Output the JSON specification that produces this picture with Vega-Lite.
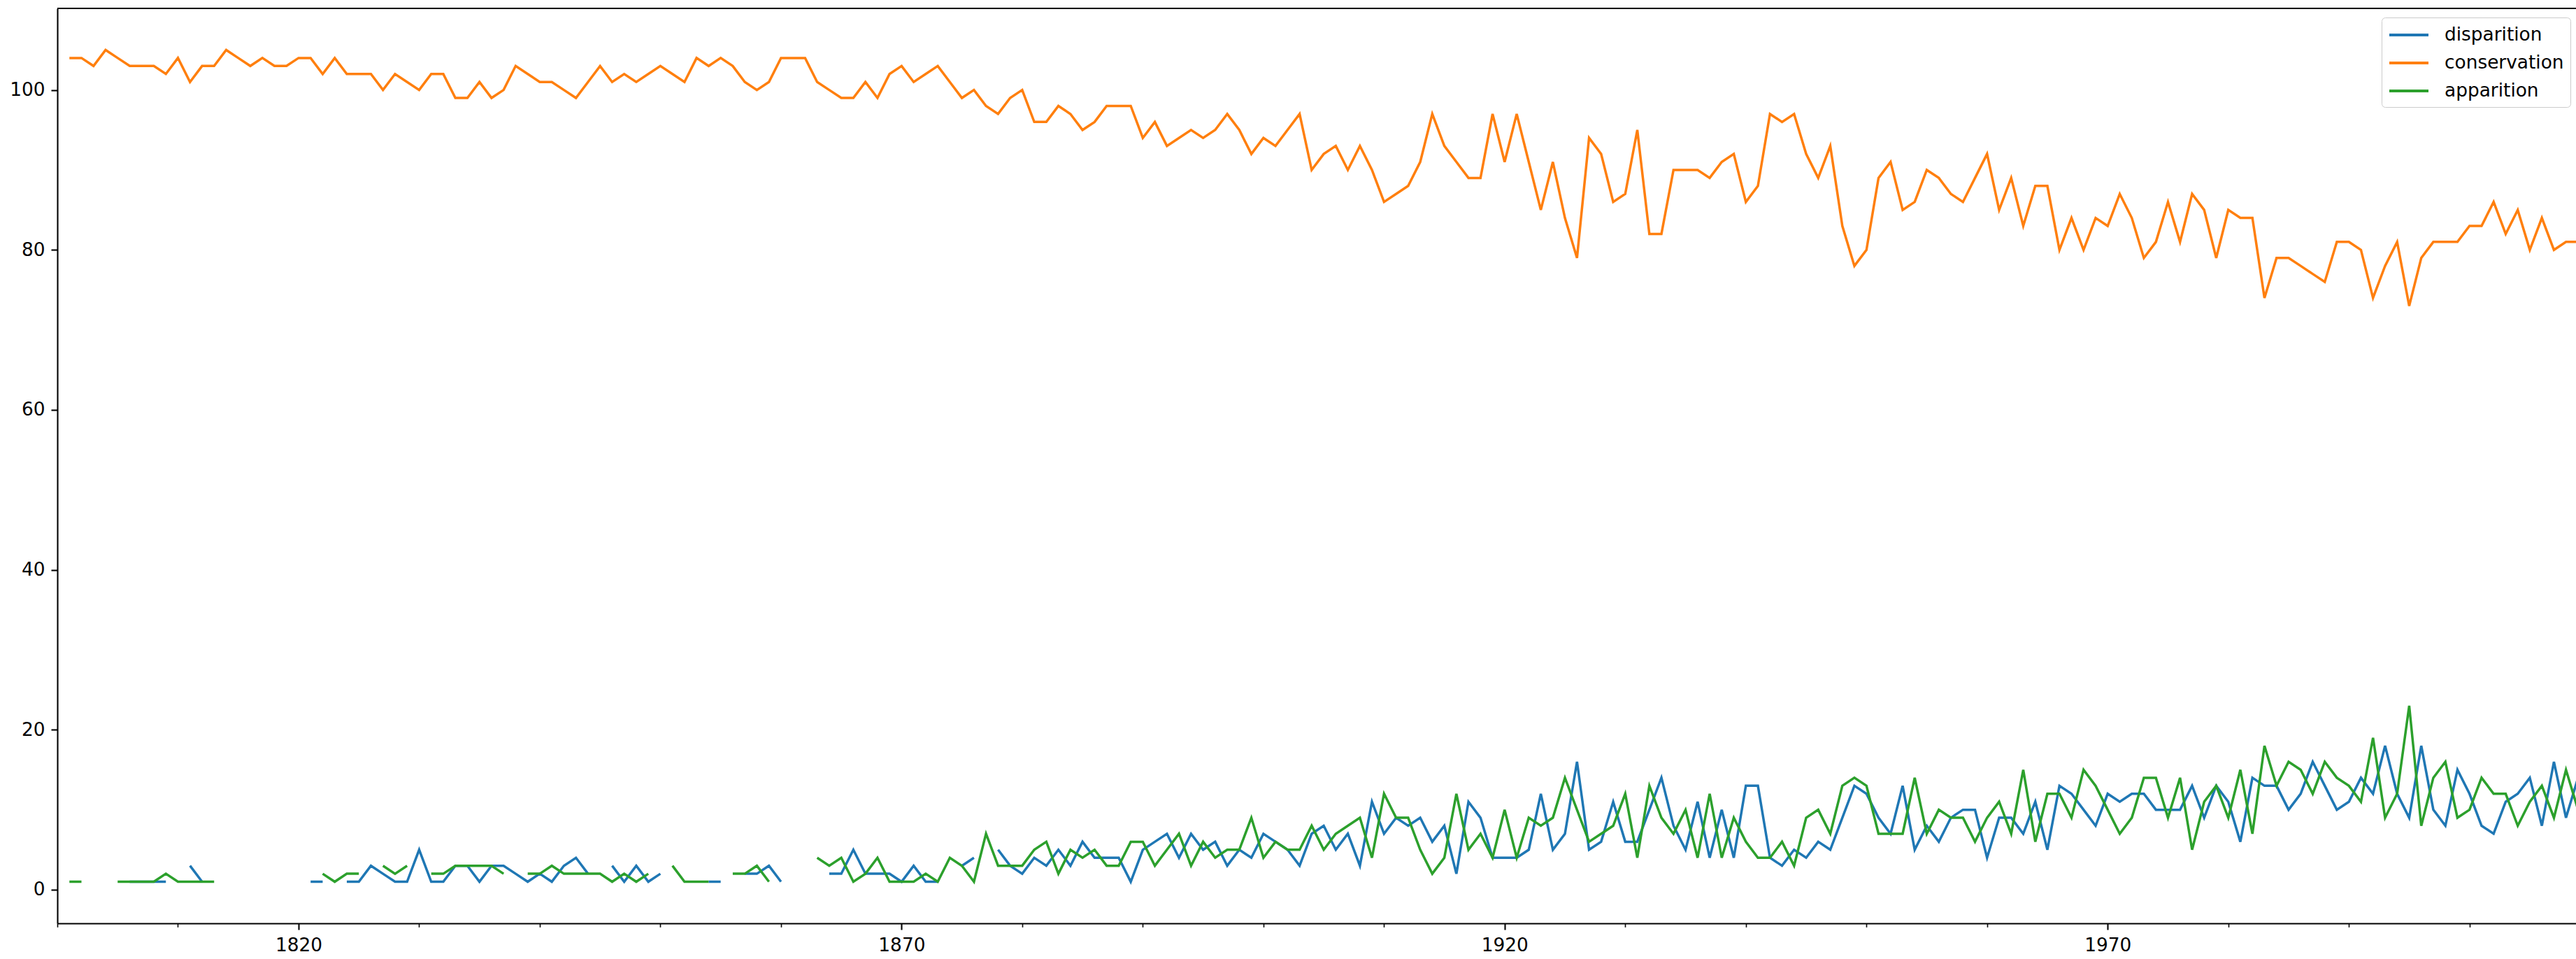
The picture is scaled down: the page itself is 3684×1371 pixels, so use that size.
{
 "$schema": "https://vega.github.io/schema/vega-lite/v6.json",
 "width": 3602, "height": 1308,
 "autosize": {"type": "none"},
 "padding": {"left": 82, "top": 12, "right": 0, "bottom": 51},
 "background": "white",
 "config": {
  "view": {"stroke": null},
  "font": "DejaVu Sans",
  "axis": {"domainColor": "black", "domainWidth": 2.1, "tickColor": "black", "tickWidth": 2.1, "tickSize": 9, "labelFont": "DejaVu Sans", "labelFontSize": 26.4, "labelColor": "black", "labelPadding": 9, "grid": false, "title": null},
  "legend": {"orient": "none", "legendX": 3324, "legendY": 13, "title": null, "symbolType": "M-1,0H3", "symbolSize": 784, "symbolStrokeWidth": 4, "labelFont": "DejaVu Sans", "labelFontSize": 26.4, "labelColor": "black", "labelLimit": 400, "labelOffset": 49, "padding": 9, "rowPadding": 10, "strokeColor": "#cccccc", "fillColor": "white", "cornerRadius": 5}
 },
 "data": {"values": [
{"year":1801,"disparition":null,"conservation":104,"apparition":1},
{"year":1802,"disparition":null,"conservation":104,"apparition":1},
{"year":1803,"disparition":null,"conservation":103,"apparition":null},
{"year":1804,"disparition":null,"conservation":105,"apparition":null},
{"year":1805,"disparition":null,"conservation":104,"apparition":1},
{"year":1806,"disparition":1,"conservation":103,"apparition":1},
{"year":1807,"disparition":1,"conservation":103,"apparition":1},
{"year":1808,"disparition":1,"conservation":103,"apparition":1},
{"year":1809,"disparition":1,"conservation":102,"apparition":2},
{"year":1810,"disparition":null,"conservation":104,"apparition":1},
{"year":1811,"disparition":3,"conservation":101,"apparition":1},
{"year":1812,"disparition":1,"conservation":103,"apparition":1},
{"year":1813,"disparition":null,"conservation":103,"apparition":1},
{"year":1814,"disparition":null,"conservation":105,"apparition":null},
{"year":1815,"disparition":null,"conservation":104,"apparition":null},
{"year":1816,"disparition":null,"conservation":103,"apparition":null},
{"year":1817,"disparition":null,"conservation":104,"apparition":null},
{"year":1818,"disparition":null,"conservation":103,"apparition":null},
{"year":1819,"disparition":null,"conservation":103,"apparition":null},
{"year":1820,"disparition":null,"conservation":104,"apparition":null},
{"year":1821,"disparition":1,"conservation":104,"apparition":null},
{"year":1822,"disparition":1,"conservation":102,"apparition":2},
{"year":1823,"disparition":null,"conservation":104,"apparition":1},
{"year":1824,"disparition":1,"conservation":102,"apparition":2},
{"year":1825,"disparition":1,"conservation":102,"apparition":2},
{"year":1826,"disparition":3,"conservation":102,"apparition":null},
{"year":1827,"disparition":2,"conservation":100,"apparition":3},
{"year":1828,"disparition":1,"conservation":102,"apparition":2},
{"year":1829,"disparition":1,"conservation":101,"apparition":3},
{"year":1830,"disparition":5,"conservation":100,"apparition":null},
{"year":1831,"disparition":1,"conservation":102,"apparition":2},
{"year":1832,"disparition":1,"conservation":102,"apparition":2},
{"year":1833,"disparition":3,"conservation":99,"apparition":3},
{"year":1834,"disparition":3,"conservation":99,"apparition":3},
{"year":1835,"disparition":1,"conservation":101,"apparition":3},
{"year":1836,"disparition":3,"conservation":99,"apparition":3},
{"year":1837,"disparition":3,"conservation":100,"apparition":2},
{"year":1838,"disparition":2,"conservation":103,"apparition":null},
{"year":1839,"disparition":1,"conservation":102,"apparition":2},
{"year":1840,"disparition":2,"conservation":101,"apparition":2},
{"year":1841,"disparition":1,"conservation":101,"apparition":3},
{"year":1842,"disparition":3,"conservation":100,"apparition":2},
{"year":1843,"disparition":4,"conservation":99,"apparition":2},
{"year":1844,"disparition":2,"conservation":101,"apparition":2},
{"year":1845,"disparition":null,"conservation":103,"apparition":2},
{"year":1846,"disparition":3,"conservation":101,"apparition":1},
{"year":1847,"disparition":1,"conservation":102,"apparition":2},
{"year":1848,"disparition":3,"conservation":101,"apparition":1},
{"year":1849,"disparition":1,"conservation":102,"apparition":2},
{"year":1850,"disparition":2,"conservation":103,"apparition":null},
{"year":1851,"disparition":null,"conservation":102,"apparition":3},
{"year":1852,"disparition":null,"conservation":101,"apparition":1},
{"year":1853,"disparition":null,"conservation":104,"apparition":1},
{"year":1854,"disparition":1,"conservation":103,"apparition":1},
{"year":1855,"disparition":1,"conservation":104,"apparition":null},
{"year":1856,"disparition":null,"conservation":103,"apparition":2},
{"year":1857,"disparition":2,"conservation":101,"apparition":2},
{"year":1858,"disparition":2,"conservation":100,"apparition":3},
{"year":1859,"disparition":3,"conservation":101,"apparition":1},
{"year":1860,"disparition":1,"conservation":104,"apparition":null},
{"year":1861,"disparition":null,"conservation":104,"apparition":null},
{"year":1862,"disparition":null,"conservation":104,"apparition":null},
{"year":1863,"disparition":null,"conservation":101,"apparition":4},
{"year":1864,"disparition":2,"conservation":100,"apparition":3},
{"year":1865,"disparition":2,"conservation":99,"apparition":4},
{"year":1866,"disparition":5,"conservation":99,"apparition":1},
{"year":1867,"disparition":2,"conservation":101,"apparition":2},
{"year":1868,"disparition":2,"conservation":99,"apparition":4},
{"year":1869,"disparition":2,"conservation":102,"apparition":1},
{"year":1870,"disparition":1,"conservation":103,"apparition":1},
{"year":1871,"disparition":3,"conservation":101,"apparition":1},
{"year":1872,"disparition":1,"conservation":102,"apparition":2},
{"year":1873,"disparition":1,"conservation":103,"apparition":1},
{"year":1874,"disparition":null,"conservation":101,"apparition":4},
{"year":1875,"disparition":3,"conservation":99,"apparition":3},
{"year":1876,"disparition":4,"conservation":100,"apparition":1},
{"year":1877,"disparition":null,"conservation":98,"apparition":7},
{"year":1878,"disparition":5,"conservation":97,"apparition":3},
{"year":1879,"disparition":3,"conservation":99,"apparition":3},
{"year":1880,"disparition":2,"conservation":100,"apparition":3},
{"year":1881,"disparition":4,"conservation":96,"apparition":5},
{"year":1882,"disparition":3,"conservation":96,"apparition":6},
{"year":1883,"disparition":5,"conservation":98,"apparition":2},
{"year":1884,"disparition":3,"conservation":97,"apparition":5},
{"year":1885,"disparition":6,"conservation":95,"apparition":4},
{"year":1886,"disparition":4,"conservation":96,"apparition":5},
{"year":1887,"disparition":4,"conservation":98,"apparition":3},
{"year":1888,"disparition":4,"conservation":98,"apparition":3},
{"year":1889,"disparition":1,"conservation":98,"apparition":6},
{"year":1890,"disparition":5,"conservation":94,"apparition":6},
{"year":1891,"disparition":6,"conservation":96,"apparition":3},
{"year":1892,"disparition":7,"conservation":93,"apparition":5},
{"year":1893,"disparition":4,"conservation":94,"apparition":7},
{"year":1894,"disparition":7,"conservation":95,"apparition":3},
{"year":1895,"disparition":5,"conservation":94,"apparition":6},
{"year":1896,"disparition":6,"conservation":95,"apparition":4},
{"year":1897,"disparition":3,"conservation":97,"apparition":5},
{"year":1898,"disparition":5,"conservation":95,"apparition":5},
{"year":1899,"disparition":4,"conservation":92,"apparition":9},
{"year":1900,"disparition":7,"conservation":94,"apparition":4},
{"year":1901,"disparition":6,"conservation":93,"apparition":6},
{"year":1902,"disparition":5,"conservation":95,"apparition":5},
{"year":1903,"disparition":3,"conservation":97,"apparition":5},
{"year":1904,"disparition":7,"conservation":90,"apparition":8},
{"year":1905,"disparition":8,"conservation":92,"apparition":5},
{"year":1906,"disparition":5,"conservation":93,"apparition":7},
{"year":1907,"disparition":7,"conservation":90,"apparition":8},
{"year":1908,"disparition":3,"conservation":93,"apparition":9},
{"year":1909,"disparition":11,"conservation":90,"apparition":4},
{"year":1910,"disparition":7,"conservation":86,"apparition":12},
{"year":1911,"disparition":9,"conservation":87,"apparition":9},
{"year":1912,"disparition":8,"conservation":88,"apparition":9},
{"year":1913,"disparition":9,"conservation":91,"apparition":5},
{"year":1914,"disparition":6,"conservation":97,"apparition":2},
{"year":1915,"disparition":8,"conservation":93,"apparition":4},
{"year":1916,"disparition":2,"conservation":91,"apparition":12},
{"year":1917,"disparition":11,"conservation":89,"apparition":5},
{"year":1918,"disparition":9,"conservation":89,"apparition":7},
{"year":1919,"disparition":4,"conservation":97,"apparition":4},
{"year":1920,"disparition":4,"conservation":91,"apparition":10},
{"year":1921,"disparition":4,"conservation":97,"apparition":4},
{"year":1922,"disparition":5,"conservation":91,"apparition":9},
{"year":1923,"disparition":12,"conservation":85,"apparition":8},
{"year":1924,"disparition":5,"conservation":91,"apparition":9},
{"year":1925,"disparition":7,"conservation":84,"apparition":14},
{"year":1926,"disparition":16,"conservation":79,"apparition":10},
{"year":1927,"disparition":5,"conservation":94,"apparition":6},
{"year":1928,"disparition":6,"conservation":92,"apparition":7},
{"year":1929,"disparition":11,"conservation":86,"apparition":8},
{"year":1930,"disparition":6,"conservation":87,"apparition":12},
{"year":1931,"disparition":6,"conservation":95,"apparition":4},
{"year":1932,"disparition":10,"conservation":82,"apparition":13},
{"year":1933,"disparition":14,"conservation":82,"apparition":9},
{"year":1934,"disparition":8,"conservation":90,"apparition":7},
{"year":1935,"disparition":5,"conservation":90,"apparition":10},
{"year":1936,"disparition":11,"conservation":90,"apparition":4},
{"year":1937,"disparition":4,"conservation":89,"apparition":12},
{"year":1938,"disparition":10,"conservation":91,"apparition":4},
{"year":1939,"disparition":4,"conservation":92,"apparition":9},
{"year":1940,"disparition":13,"conservation":86,"apparition":6},
{"year":1941,"disparition":13,"conservation":88,"apparition":4},
{"year":1942,"disparition":4,"conservation":97,"apparition":4},
{"year":1943,"disparition":3,"conservation":96,"apparition":6},
{"year":1944,"disparition":5,"conservation":97,"apparition":3},
{"year":1945,"disparition":4,"conservation":92,"apparition":9},
{"year":1946,"disparition":6,"conservation":89,"apparition":10},
{"year":1947,"disparition":5,"conservation":93,"apparition":7},
{"year":1948,"disparition":9,"conservation":83,"apparition":13},
{"year":1949,"disparition":13,"conservation":78,"apparition":14},
{"year":1950,"disparition":12,"conservation":80,"apparition":13},
{"year":1951,"disparition":9,"conservation":89,"apparition":7},
{"year":1952,"disparition":7,"conservation":91,"apparition":7},
{"year":1953,"disparition":13,"conservation":85,"apparition":7},
{"year":1954,"disparition":5,"conservation":86,"apparition":14},
{"year":1955,"disparition":8,"conservation":90,"apparition":7},
{"year":1956,"disparition":6,"conservation":89,"apparition":10},
{"year":1957,"disparition":9,"conservation":87,"apparition":9},
{"year":1958,"disparition":10,"conservation":86,"apparition":9},
{"year":1959,"disparition":10,"conservation":89,"apparition":6},
{"year":1960,"disparition":4,"conservation":92,"apparition":9},
{"year":1961,"disparition":9,"conservation":85,"apparition":11},
{"year":1962,"disparition":9,"conservation":89,"apparition":7},
{"year":1963,"disparition":7,"conservation":83,"apparition":15},
{"year":1964,"disparition":11,"conservation":88,"apparition":6},
{"year":1965,"disparition":5,"conservation":88,"apparition":12},
{"year":1966,"disparition":13,"conservation":80,"apparition":12},
{"year":1967,"disparition":12,"conservation":84,"apparition":9},
{"year":1968,"disparition":10,"conservation":80,"apparition":15},
{"year":1969,"disparition":8,"conservation":84,"apparition":13},
{"year":1970,"disparition":12,"conservation":83,"apparition":10},
{"year":1971,"disparition":11,"conservation":87,"apparition":7},
{"year":1972,"disparition":12,"conservation":84,"apparition":9},
{"year":1973,"disparition":12,"conservation":79,"apparition":14},
{"year":1974,"disparition":10,"conservation":81,"apparition":14},
{"year":1975,"disparition":10,"conservation":86,"apparition":9},
{"year":1976,"disparition":10,"conservation":81,"apparition":14},
{"year":1977,"disparition":13,"conservation":87,"apparition":5},
{"year":1978,"disparition":9,"conservation":85,"apparition":11},
{"year":1979,"disparition":13,"conservation":79,"apparition":13},
{"year":1980,"disparition":11,"conservation":85,"apparition":9},
{"year":1981,"disparition":6,"conservation":84,"apparition":15},
{"year":1982,"disparition":14,"conservation":84,"apparition":7},
{"year":1983,"disparition":13,"conservation":74,"apparition":18},
{"year":1984,"disparition":13,"conservation":79,"apparition":13},
{"year":1985,"disparition":10,"conservation":79,"apparition":16},
{"year":1986,"disparition":12,"conservation":78,"apparition":15},
{"year":1987,"disparition":16,"conservation":77,"apparition":12},
{"year":1988,"disparition":13,"conservation":76,"apparition":16},
{"year":1989,"disparition":10,"conservation":81,"apparition":14},
{"year":1990,"disparition":11,"conservation":81,"apparition":13},
{"year":1991,"disparition":14,"conservation":80,"apparition":11},
{"year":1992,"disparition":12,"conservation":74,"apparition":19},
{"year":1993,"disparition":18,"conservation":78,"apparition":9},
{"year":1994,"disparition":12,"conservation":81,"apparition":12},
{"year":1995,"disparition":9,"conservation":73,"apparition":23},
{"year":1996,"disparition":18,"conservation":79,"apparition":8},
{"year":1997,"disparition":10,"conservation":81,"apparition":14},
{"year":1998,"disparition":8,"conservation":81,"apparition":16},
{"year":1999,"disparition":15,"conservation":81,"apparition":9},
{"year":2000,"disparition":12,"conservation":83,"apparition":10},
{"year":2001,"disparition":8,"conservation":83,"apparition":14},
{"year":2002,"disparition":7,"conservation":86,"apparition":12},
{"year":2003,"disparition":11,"conservation":82,"apparition":12},
{"year":2004,"disparition":12,"conservation":85,"apparition":8},
{"year":2005,"disparition":14,"conservation":80,"apparition":11},
{"year":2006,"disparition":8,"conservation":84,"apparition":13},
{"year":2007,"disparition":16,"conservation":80,"apparition":9},
{"year":2008,"disparition":9,"conservation":81,"apparition":15},
{"year":2009,"disparition":14,"conservation":81,"apparition":10}
 ]},
 "layer": [
  {"mark": {"type": "line", "strokeWidth": 3.5, "clip": true, "invalid": "break-paths-show-domains"},
   "encoding": {
    "x": {"field": "year", "type": "quantitative", "scale": {"domain": [1800, 2008.83], "nice": false, "zero": false},
          "axis": {"values": [1800,1810,1820,1830,1840,1850,1860,1870,1880,1890,1900,1910,1920,1930,1940,1950,1960,1970,1980,1990,2000],
                   "labelExpr": "(datum.value - 1820) % 50 == 0 ? datum.label : ''", "format": "d", "labelOverlap": false, "labelFlush": false,
                   "tickSize": {"condition": {"test": "(datum.value - 1820) % 50 == 0", "value": 9}, "value": 5.3},
                   "tickWidth": {"condition": {"test": "(datum.value - 1820) % 50 == 0", "value": 2.1}, "value": 1.6}}},
    "y": {"field": "disparition", "type": "quantitative", "scale": {"domain": [-4.2, 110.2], "nice": false, "zero": false},
          "axis": {"values": [0, 20, 40, 60, 80, 100], "labelFlush": false}},
    "color": {"datum": "disparition", "type": "nominal", "scale": {"domain": ["disparition", "conservation", "apparition"], "range": ["#1f77b4", "#ff7f0e", "#2ca02c"]}}
   }},
  {"mark": {"type": "line", "strokeWidth": 3.5, "clip": true, "invalid": "break-paths-show-domains"},
   "encoding": {
    "x": {"field": "year", "type": "quantitative"},
    "y": {"field": "conservation", "type": "quantitative"},
    "color": {"datum": "conservation", "type": "nominal"}
   }},
  {"mark": {"type": "line", "strokeWidth": 3.5, "clip": true, "invalid": "break-paths-show-domains"},
   "encoding": {
    "x": {"field": "year", "type": "quantitative"},
    "y": {"field": "apparition", "type": "quantitative"},
    "color": {"datum": "apparition", "type": "nominal"}
   }},
  {"mark": {"type": "rule", "color": "black", "strokeWidth": 2.1},
   "encoding": {"y": {"datum": 110.2, "type": "quantitative"}}}
 ]
}
